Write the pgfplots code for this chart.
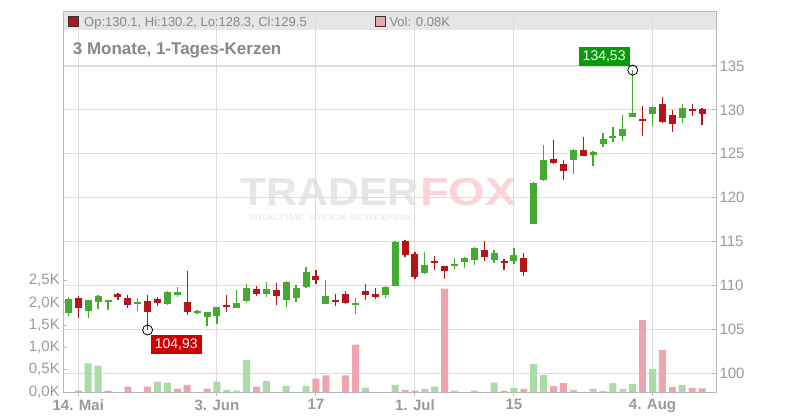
\documentclass[border=0pt]{standalone}
\usepackage{pgfplots}
\pgfplotsset{compat=1.18}
\usepackage{pgfplotstable}
\usepackage{fontspec}
\setmainfont{Liberation Sans}
\definecolor{cg}{HTML}{46A932}
\definecolor{cr}{HTML}{B51519}
\definecolor{vg}{HTML}{ABDCA8}
\definecolor{vr}{HTML}{EDA6AF}
\definecolor{gridc}{HTML}{DDDDDD}
\definecolor{axc}{HTML}{B8B8B8}
\definecolor{labc}{HTML}{9A9A9A}
\definecolor{hdrc}{HTML}{888888}
\definecolor{stripc}{HTML}{E6E6E6}
\definecolor{hiG}{HTML}{089A08}
\definecolor{loR}{HTML}{CC0000}
\definecolor{wmg}{HTML}{E6E6E6}
\definecolor{wmr}{HTML}{FBD3D8}

\pgfplotsset{
  base/.style={scale only axis, width=652.7pt, height=380pt,
    at={(0pt,0pt)}, anchor=south west, xmin=-1.515, xmax=64.41},
  pricey/.style={ymin=97.87, ymax=141.15},
}

\pgfplotstableread{
i o h l c
-1 106.88 108.74 106.53 108.44
1 107.10 108.40 106.30 108.32
2 108.10 108.93 107.30 108.78
3 108.13 108.35 107.18 108.32
6 107.90 108.55 107.10 108.17
9 107.87 109.35 107.75 109.24
10 108.93 109.81 108.70 109.24
12 106.88 107.18 106.72 107.07
13 106.42 106.95 105.39 106.95
14 106.53 107.52 105.58 107.52
16 107.45 109.47 107.45 107.98
17 108.25 110.15 108.02 109.70
19 109.02 110.38 108.72 109.58
21 108.38 110.49 107.58 110.38
22 108.60 110.11 108.15 109.70
23 109.81 112.08 109.74 111.51
25 107.92 110.60 107.92 108.79
28 107.81 108.57 106.72 107.96
31 108.91 109.92 108.60 109.81
32 109.92 115.06 109.92 114.91
35 111.43 113.77 111.32 112.30
38 112.34 113.09 111.85 112.42
39 112.71 113.21 112.02 113.09
40 112.94 114.39 112.37 114.27
42 112.94 114.05 112.60 113.70
44 112.82 114.27 112.48 113.47
46 117.06 121.83 117.06 121.72
47 121.98 125.95 121.87 124.31
50 124.27 125.57 122.67 125.46
52 124.89 125.27 123.59 125.15
53 126.06 127.40 125.76 126.71
54 126.86 128.00 126.29 127.05
55 126.98 129.45 126.44 127.85
56 129.22 134.53 129.22 129.68
58 129.56 130.44 128.12 130.36
61 129.07 130.67 128.54 130.25
}\greencandles

\pgfplotstableread{
i o h l c
0 108.55 108.78 106.30 107.45
4 109.01 109.16 108.32 108.70
5 108.55 108.97 107.45 107.79
7 108.21 108.90 104.93 106.99
8 108.44 108.67 107.68 108.02
11 108.10 111.64 106.61 106.99
15 107.75 108.90 106.99 107.68
18 109.58 109.95 108.82 109.05
20 109.47 110.26 107.77 108.79
24 111.06 111.74 110.19 110.64
26 108.23 109.02 107.66 108.15
27 109.02 109.43 107.92 108.04
29 109.36 110.15 108.34 108.91
30 109.02 109.70 108.45 108.68
33 115.02 115.17 113.25 113.47
34 113.55 113.77 110.79 110.98
36 112.75 113.32 111.77 112.57
37 112.19 112.19 110.75 111.66
41 114.05 115.08 112.82 113.28
43 112.67 113.02 111.79 112.60
45 113.09 113.66 111.11 111.56
48 124.43 126.53 123.82 123.93
49 123.89 124.24 121.98 123.02
51 125.46 126.87 124.73 124.73
57 128.99 130.48 126.98 128.80
59 130.70 131.43 128.46 128.65
60 129.41 129.98 127.43 128.35
62 130.13 130.67 129.33 129.83
63 130.10 130.20 128.30 129.50
}\redcandles

\pgfplotstableread{
i v
1 0.64
2 0.59
8 0.23
9 0.21
14 0.23
15 0.05
16 0.03
17 0.72
19 0.25
21 0.14
23 0.14
29 0.10
32 0.16
35 0.07
36 0.12
38 0.03
40 0.03
42 0.21
44 0.09
46 0.63
47 0.38
50 0.045
52 0.07
53 0.02
54 0.20
55 0.07
56 0.18
58 0.52
61 0.16
}\volgreen

\pgfplotstableread{
i v
0 0.03
3 0.03
5 0.12
7 0.12
10 0.075
11 0.16
13 0.075
18 0.12
24 0.30
25 0.37
27 0.37
28 1.06
33 0.05
34 0.03
37 2.32
43 0.03
45 0.07
48 0.13
49 0.20
57 1.61
59 0.94
60 0.11
62 0.09
63 0.08
}\volred

\begin{document}
\begin{tikzpicture}
\useasboundingbox (-63.3pt,-28pt) rectangle (736.7pt,392pt);
% header strip
\fill[stripc] (0pt,362pt) rectangle (652.7pt,380pt);
% watermark
\node[anchor=base west, inner sep=0pt, text=wmg, font=\bfseries\fontsize{39}{40}\selectfont] at (176.7pt,186pt) {\scalebox{1.1}[1]{TRADER}};
\node[anchor=base west, inner sep=0pt, text=wmr, font=\bfseries\fontsize{39}{40}\selectfont] at (356.7pt,186pt) {\scalebox{1.2}[1]{FOX}};
\node[anchor=base west, inner sep=0pt, text=wmg, font=\fontsize{8}{9}\selectfont] at (186.7pt,171pt) {\scalebox{1.4}[1]{REALTIME STOCK SCREENING}};

\begin{axis}[base, pricey,
  xtick={0,14,24,34,44,58},
  xticklabels={14. Mai,3. Jun,17,1. Jul,15,4. Aug},
  ytick={100,105,...,135},
  xtick pos=bottom, ytick pos=right, yticklabel pos=right,
  xmajorgrids, ymajorgrids,
  grid style={gridc, line width=1.1pt},
  axis line style={axc, line width=1pt},
  tick style={axc, line width=1pt},
  major tick length=4pt,
  tick align=inside,
  xtick align=outside,
  /pgf/number format/assume math mode=true,
  ticklabel style={labc, font=\fontsize{15}{18}\selectfont},
  xticklabel style={font=\bfseries\fontsize{15}{18}\selectfont},
]
\end{axis}

\begin{axis}[base, ymin=0, ymax=8.52,
  axis line style={draw=none}, xtick=\empty,
  ytick={0,0.5,1,1.5,2,2.5},
  yticklabels={{0,0K},{0,5K},{1,0K},{1,5K},{2,0K},{2,5K}},
  ytick pos=left, tick align=inside, major tick length=4pt,
  tick style={axc, line width=1pt},
  yticklabel style={labc, font=\fontsize{15}{18}\selectfont},
]
\addplot[ybar, bar width=7pt, bar shift=0pt, fill=vg, draw=none] table[x=i,y=v]{\volgreen};
\addplot[ybar, bar width=7pt, bar shift=0pt, fill=vr, draw=none] table[x=i,y=v]{\volred};
\end{axis}

\begin{axis}[base, pricey, hide axis]
% wicks
\addplot[draw=none, mark=none, forget plot,
  error bars/.cd, y dir=both, y explicit, error mark=none,
  error bar style={draw=cg, line width=1.3pt}]
  table[x=i, y=c, y error plus expr=\thisrow{h}-\thisrow{c}, y error minus expr=\thisrow{c}-\thisrow{l}]{\greencandles};
\addplot[draw=none, mark=none, forget plot,
  error bars/.cd, y dir=both, y explicit, error mark=none,
  error bar style={draw=cr, line width=1.3pt}]
  table[x=i, y=c, y error plus expr=\thisrow{h}-\thisrow{c}, y error minus expr=\thisrow{c}-\thisrow{l}]{\redcandles};
% bodies
\addplot[draw=none, mark=none, forget plot,
  error bars/.cd, y dir=both, y explicit, error mark=none,
  error bar style={draw=cg, line width=7pt}]
  table[x=i, y expr=(\thisrow{o}+\thisrow{c})/2, y error expr={max(abs(\thisrow{c}-\thisrow{o})/2,0.12)}]{\greencandles};
\addplot[draw=none, mark=none, forget plot,
  error bars/.cd, y dir=both, y explicit, error mark=none,
  error bar style={draw=cr, line width=7pt}]
  table[x=i, y expr=(\thisrow{o}+\thisrow{c})/2, y error expr={max(abs(\thisrow{c}-\thisrow{o})/2,0.12)}]{\redcandles};
% extremes
\addplot[only marks, mark=o, mark size=5pt, black, line width=0.8pt] coordinates {(56,134.53) (7,104.93)};
\node[fill=hiG, text=white, anchor=south east, inner xsep=4pt, inner ysep=0pt, minimum height=19pt,
  font=\fontsize{14}{16}\selectfont] at (axis cs:56,134.53) [xshift=-3pt, yshift=4pt] {134,53};
\node[fill=loR, text=white, anchor=north west, inner xsep=4pt, inner ysep=0pt, minimum height=19pt,
  font=\fontsize{14}{16}\selectfont] at (axis cs:7,104.93) [xshift=3pt, yshift=-5pt] {104,93};
\end{axis}

% header texts
\draw[draw=black!80, fill=cr, line width=0.8pt] (4.7pt,366pt) rectangle (14.7pt,376pt);
\node[anchor=base west, inner sep=0pt, text=hdrc, font=\fontsize{13}{15}\selectfont] at (20.7pt,365.3pt) {Op:130.1, Hi:130.2, Lo:128.3, Cl:129.5};
\draw[draw=black!80, fill=vr, line width=0.8pt] (311.7pt,366pt) rectangle (321.7pt,376pt);
\node[anchor=base west, inner sep=0pt, text=hdrc, font=\fontsize{13}{15}\selectfont] at (326pt,365.3pt) {Vol: 0.08K};
\node[anchor=base west, inner sep=0pt, text=hdrc, font=\bfseries\fontsize{17}{19}\selectfont] at (9.4pt,337.7pt) {3 Monate, 1-Tages-Kerzen};
\end{tikzpicture}
\end{document}
